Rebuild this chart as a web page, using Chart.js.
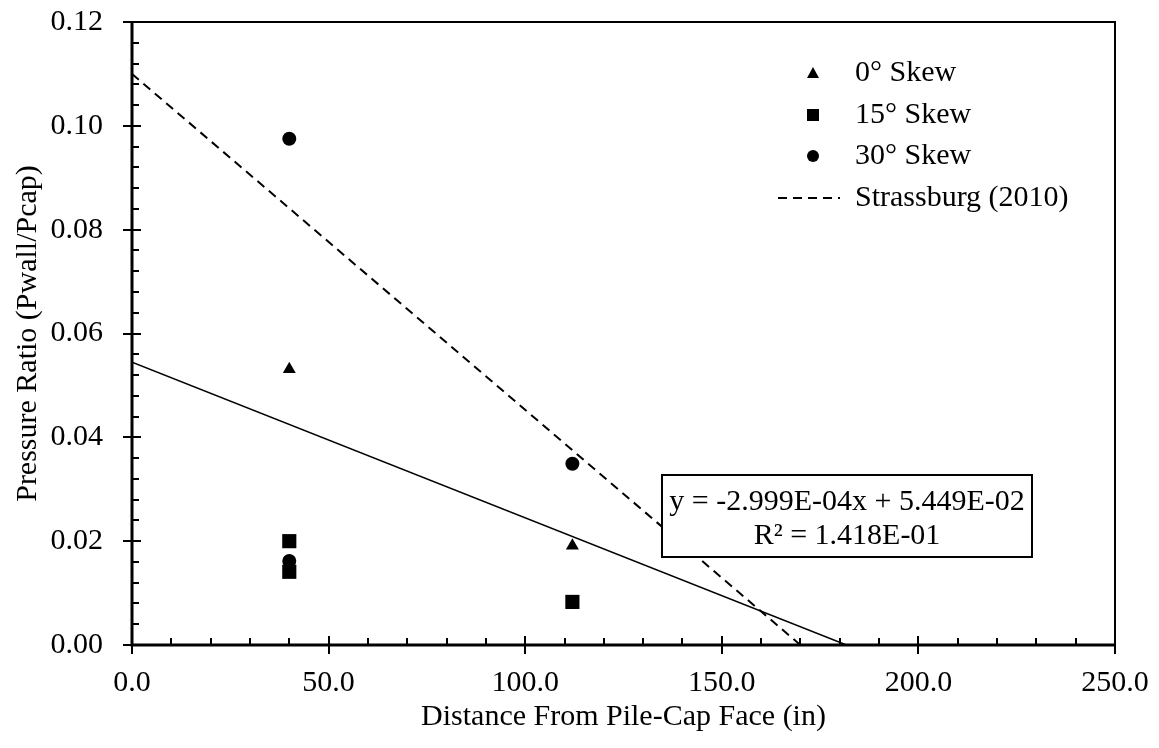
<!DOCTYPE html>
<html>
<head>
<meta charset="utf-8">
<script src="https://cdn.jsdelivr.net/npm/chart.js@4/dist/chart.umd.min.js"></script>
<style>
  html, body { margin: 0; padding: 0; background: #fff; }
  #wrap { width: 1159px; height: 748px; }
</style>
</head>
<body>
<div id="wrap"><canvas id="c" width="1159" height="748"></canvas></div>
<script>
// ---- Data ----
const skew0X = [40, 112];
const skew0Y = [0.0531, 0.0191];
const skew15X = [40, 40, 112];
const skew15Y = [0.0200, 0.0141, 0.0083];
const skew30X = [40, 40, 112];
const skew30Y = [0.0975, 0.0162, 0.0349];
const strassburgX = [0, 170];
const strassburgY = [0.110, 0.0];
const trendSlope = -2.999E-04;
const trendIntercept = 5.449E-02;
const seriesLabels = ['0° Skew', '15° Skew', '30° Skew', 'Strassburg (2010)'];
const equationLines = ['y = -2.999E-04x + 5.449E-02', 'R² = 1.418E-01'];
const xTitle = 'Distance From Pile-Cap Face (in)';
const yTitle = 'Pressure Ratio (Pwall/Pcap)';

const toPts = (xs, ys) => xs.map((x, i) => ({ x: x, y: ys[i] }));
const trendEnd = -trendIntercept / trendSlope;
const trendPts = [{ x: 0, y: trendIntercept }, { x: trendEnd, y: trendSlope * trendEnd + trendIntercept }];

const FONT = '"Liberation Serif", "Times New Roman", serif';

const axisPlugin = {
  id: 'axisPlugin',
  afterDatasetsDraw(chart) {
    const ctx = chart.ctx;
    const a = chart.chartArea;
    const xs = chart.scales.x, ys = chart.scales.y;
    ctx.save();
    ctx.strokeStyle = '#000';
    ctx.lineWidth = 2;
    ctx.beginPath();
    ctx.moveTo(a.left, a.top); ctx.lineTo(a.right, a.top); ctx.lineTo(a.right, a.bottom);
    ctx.stroke();
    ctx.lineWidth = 3;
    ctx.beginPath();
    ctx.moveTo(a.left, a.top - 1); ctx.lineTo(a.left, a.bottom); ctx.lineTo(a.right + 1, a.bottom);
    ctx.stroke();
    ctx.lineWidth = 2;
    for (let v = 0; v <= 250 + 1e-9; v += 10) {
      const px = Math.round(xs.getPixelForValue(v));
      const major = Math.abs(v % 50) < 1e-9;
      ctx.beginPath();
      if (major) { ctx.moveTo(px, a.bottom - 9); ctx.lineTo(px, a.bottom + 9); }
      else { ctx.moveTo(px, a.bottom - 7); ctx.lineTo(px, a.bottom); }
      ctx.stroke();
    }
    for (let i = 0; i <= 30; i++) {
      const v = i * 0.004;
      const py = Math.round(ys.getPixelForValue(v));
      const major = i % 5 === 0;
      ctx.beginPath();
      if (major) { ctx.moveTo(a.left - 9, py); ctx.lineTo(a.left + 9, py); }
      else { ctx.moveTo(a.left, py); ctx.lineTo(a.left + 7, py); }
      ctx.stroke();
    }
    const bx = 662, by = 475, bw = 370, bh = 82;
    ctx.fillStyle = '#fff';
    ctx.fillRect(bx, by, bw, bh);
    ctx.lineWidth = 2;
    ctx.strokeRect(bx, by, bw, bh);
    ctx.fillStyle = '#000';
    ctx.font = '30px ' + FONT;
    ctx.textAlign = 'center';
    ctx.textBaseline = 'middle';
    ctx.fillText(equationLines[0], bx + bw / 2, by + 27);
    ctx.fillText(equationLines[1], bx + bw / 2, by + 61);
    ctx.restore();
  },
  afterDraw(chart) {
    const ctx = chart.ctx;
    ctx.save();
    ctx.fillStyle = '#000';
    ctx.strokeStyle = '#000';
    const mx = 813, tx = 855;
    const rowsY = [73, 115, 156, 198];
    let y = rowsY[0];
    ctx.beginPath();
    ctx.moveTo(mx, y - 6); ctx.lineTo(mx + 6, y + 5); ctx.lineTo(mx - 6, y + 5); ctx.closePath(); ctx.fill();
    y = rowsY[1];
    ctx.fillRect(mx - 6, y - 6, 12, 12);
    y = rowsY[2];
    ctx.beginPath(); ctx.arc(mx, y, 6, 0, Math.PI * 2); ctx.fill();
    y = rowsY[3];
    ctx.lineWidth = 2;
    ctx.setLineDash([9, 6]);
    ctx.beginPath(); ctx.moveTo(778, y); ctx.lineTo(840, y); ctx.stroke();
    ctx.setLineDash([]);
    ctx.font = '30px ' + FONT;
    ctx.textAlign = 'left';
    ctx.textBaseline = 'middle';
    seriesLabels.forEach((t, i) => ctx.fillText(t, tx, rowsY[i]));
    ctx.restore();
  }
};

new Chart(document.getElementById('c'), {
  type: 'scatter',
  data: {
    datasets: [
      { label: seriesLabels[0], data: toPts(skew0X, skew0Y), pointStyle: 'triangle', pointRadius: 7.5,
        backgroundColor: '#000', borderColor: '#000', borderWidth: 0, showLine: false },
      { label: seriesLabels[1], data: toPts(skew15X, skew15Y), pointStyle: 'rect', pointRadius: 10,
        backgroundColor: '#000', borderColor: '#000', borderWidth: 0, showLine: false },
      { label: seriesLabels[2], data: toPts(skew30X, skew30Y), pointStyle: 'circle', pointRadius: 7,
        backgroundColor: '#000', borderColor: '#000', borderWidth: 0, showLine: false },
      { label: seriesLabels[3], data: toPts(strassburgX, strassburgY), showLine: true, pointRadius: 0,
        borderColor: '#000', borderWidth: 2, borderDash: [9, 6], fill: false },
      { label: 'Linear fit', data: trendPts, showLine: true, pointRadius: 0,
        borderColor: '#000', borderWidth: 1.5, fill: false }
    ]
  },
  options: {
    responsive: false,
    animation: false,
    devicePixelRatio: 1,
    layout: { padding: { top: 22, right: 44, left: 0, bottom: 0 } },
    plugins: { legend: { display: false }, tooltip: { enabled: false } },
    scales: {
      x: {
        type: 'linear', min: 0, max: 250,
        grid: { display: false, drawTicks: false },
        border: { display: false },
        ticks: { stepSize: 50, padding: 20, color: '#000', font: { family: FONT, size: 30 },
          callback: v => Number(v).toFixed(1) },
        title: { display: true, text: xTitle, color: '#000', font: { family: FONT, size: 30 }, padding: { top: 0, bottom: 13 } },
        afterFit: s => { s.height = 103; s.paddingLeft = 0; s.paddingRight = 0; s.paddingTop = 0; s.paddingBottom = 0; }
      },
      y: {
        type: 'linear', min: 0, max: 0.12,
        grid: { display: false, drawTicks: false },
        border: { display: false },
        ticks: { stepSize: 0.02, padding: 29, color: '#000', font: { family: FONT, size: 30 },
          callback: v => Number(v).toFixed(2) },
        title: { display: true, text: yTitle, color: '#000', font: { family: FONT, size: 30 }, padding: { top: 10, bottom: 0 } },
        afterFit: s => { s.width = 132; s.paddingLeft = 0; s.paddingRight = 0; s.paddingTop = 0; s.paddingBottom = 0; }
      }
    }
  },
  plugins: [axisPlugin]
});
</script>
</body>
</html>
